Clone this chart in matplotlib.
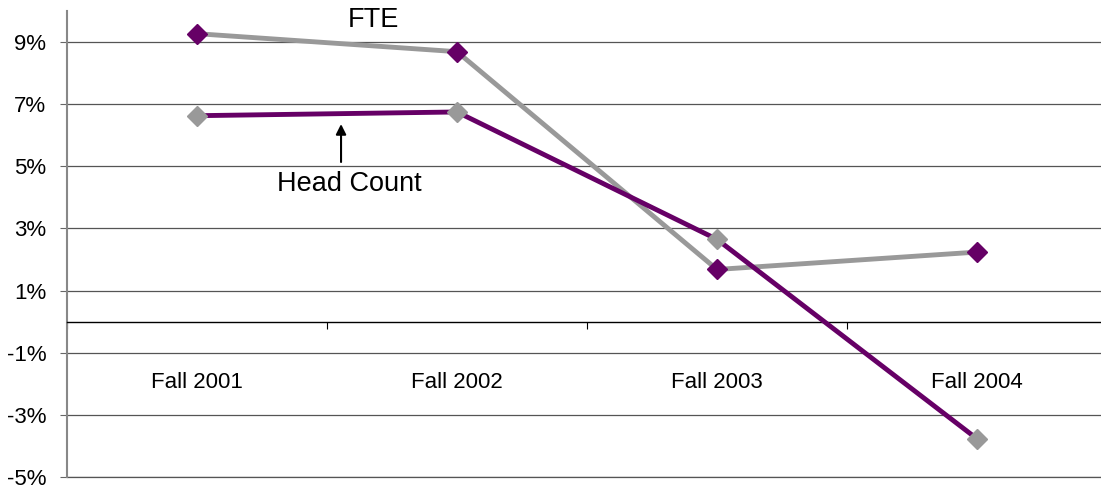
import matplotlib.pyplot as plt

# data
categories = ["Fall 2001", "Fall 2002", "Fall 2003", "Fall 2004"]
fte = [9.27, 8.69, 1.68, 2.24]
head_count = [6.63, 6.75, 2.65, -3.77]
y_ticks = [-5, -3, -1, 1, 3, 5, 7, 9]

purple = "#660066"
grey = "#999999"

plt.rcParams['font.family'] = ['Liberation Sans', 'DejaVu Sans']

fig = plt.figure(figsize=(11.01, 4.88), dpi=100)
ax = fig.add_axes([67 / 1101, 11 / 488, 1040 / 1101, 466 / 488])

x = list(range(len(categories)))
ax.plot(x, fte, color=grey, lw=3.5, marker="D", ms=10,
        mfc=purple, mec=purple, zorder=3)
ax.plot(x, head_count, color=purple, lw=3.5, marker="D", ms=10,
        mfc=grey, mec=grey, zorder=4)

ax.set_xlim(-0.5, 3.5)
ax.set_ylim(-5, 10)
ax.set_yticks(y_ticks)
ax.set_yticklabels([f"{v}%" for v in y_ticks], fontsize=16)
ax.yaxis.grid(True, color="#555555", lw=0.9)
ax.axhline(-5, color="#555555", lw=0.9, clip_on=False, zorder=0.5)
ax.set_axisbelow(True)

# category axis crosses at zero, boundaries ticked
ax.spines['bottom'].set_position(('data', 0))
ax.spines['bottom'].set_color("black")
ax.spines['bottom'].set_linewidth(1.0)
ax.set_xticks([-0.5, 0.5, 1.5, 2.5, 3.5])
ax.set_xticklabels([])
ax.tick_params(axis='x', direction='out', length=5, width=0.8, color="black")
ax.tick_params(axis='y', length=5, width=0.8, color="#666666", pad=10)
ax.spines['left'].set_color("#888888")
ax.spines['left'].set_linewidth(1.5)
ax.spines['top'].set_visible(False)
ax.spines['right'].set_visible(False)

for i, c in enumerate(categories):
    ax.text(i, -1.95, c, ha="center", va="center", fontsize=16)

ax.text(0.68, 9.7, "FTE", ha="center", va="center", fontsize=19.5)
ax.text(0.585, 4.43, "Head Count", ha="center", va="center", fontsize=19.5)
ax.annotate("", xy=(0.554, 6.45), xytext=(0.554, 5.05),
            arrowprops=dict(arrowstyle="-|>", color="black", lw=1.5,
                            mutation_scale=15))

fig.savefig("out.png", dpi=100)
